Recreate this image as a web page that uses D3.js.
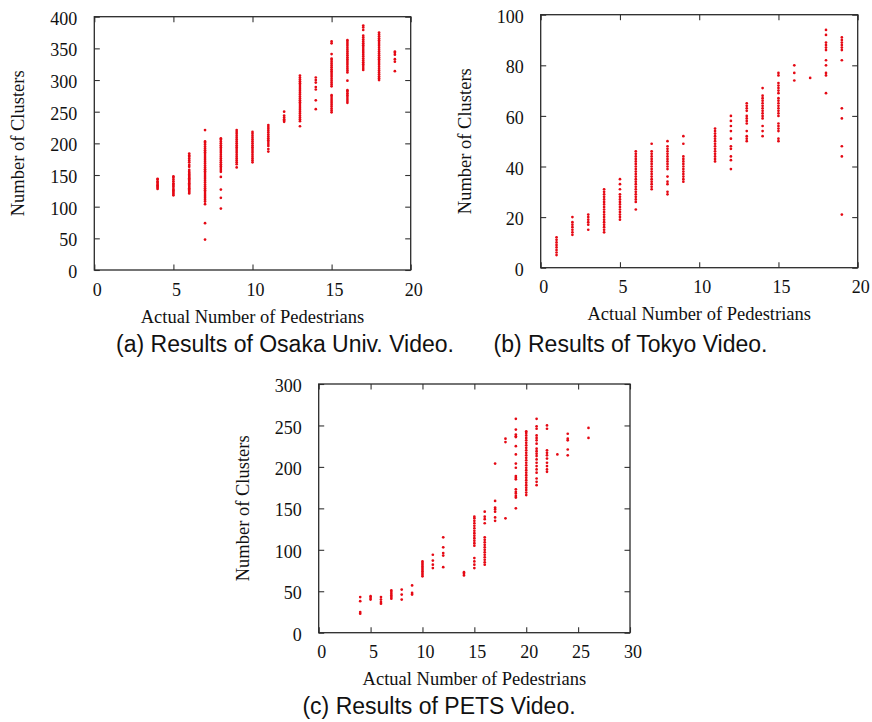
<!DOCTYPE html>
<html>
<head>
<meta charset="utf-8">
<script src="https://cdn.jsdelivr.net/npm/d3@7"></script>
<style>
  html, body { margin: 0; padding: 0; background: #fff; }
  svg { display: block; }
</style>
</head>
<body>
<svg id="chart" width="872" height="722"></svg>
<script>
// ---------------- DATA ----------------
// (a) Osaka Univ. video
const osakaX = [4, 5, 6, 7, 8, 9, 10, 11, 12, 13, 14, 15, 16, 17, 18, 19];
const osakaY = [
  [128,130,132,134,136,138,140,143,144],
  [118,120,122,124,126,128,131,133,135,137,140,143,146,148],
  [121,123,125,127,129,131,133,135,137,139,141,143,145,147,149,151,153,155,158,163,166,170,173,176,179,181,184],
  [48,74,104,108,111,114,117,120,123,126,129,132,135,138,141,144,147,150,153,156,159,162,165,168,171,174,177,180,183,186,189,192,195,198,201,203,221],
  [97,114,127,147,155,158,161,164,167,170,173,176,179,182,185,188,191,194,197,200,203,206,208],
  [162,167,170,173,176,179,182,185,188,191,194,197,200,203,206,209,212,215,218,221],
  [170,173,176,179,182,185,188,191,194,197,200,203,206,209,212,215,218],
  [187,191,196,199,202,205,208,211,214,217,220,223,226,229],
  [234,236,238,241,244,250],
  [227,235,238,241,244,247,250,253,256,259,262,265,268,271,274,277,280,283,286,289,292,295,298,301,304,307],
  [254,268,285,289,296,300,304],
  [249,252,255,258,261,264,267,270,273,276,290,293,296,299,302,305,308,311,314,317,320,323,326,329,332,334,341,358,361],
  [264,267,270,273,276,279,282,284,299,312,315,318,321,324,327,330,333,336,339,342,345,348,351,354,357,360,363],
  [316,319,322,325,328,331,334,337,340,343,346,349,352,355,358,361,364,367,370,379,383,386],
  [300,303,306,309,312,315,318,321,324,327,330,333,336,339,342,345,348,351,354,357,360,363,366,369,372,375],
  [314,329,333,340,343,345]
];
// (b) Tokyo video
const tokyoX = [1, 2, 3, 4, 5, 6, 7, 8, 9, 11, 12, 13, 14, 15, 16, 17, 18, 19];
const tokyoY = [
  [5,6,7,8,9,10,11,12],
  [13,14,15,16,17,18,20],
  [15,17,18,19,20,21],
  [14,15,16,17,18,19,20,21,22,23,24,25,26,27,28,29,30,31],
  [19,20,21,22,23,24,25,26,27,28,29,31,33,35],
  [23,26,27,28,29,30,31,32,33,34,35,36,37,38,39,40,41,42,43,44,45,46],
  [31,32,33,34,35,36,37,38,39,40,41,42,43,44,45,46,49],
  [29,30,33,34,36,39,40,41,42,43,44,45,46,47,48,50],
  [34,35,36,37,38,39,40,41,42,43,44,49,52],
  [42,43,44,45,46,47,48,49,50,51,52,53,54,55],
  [39,42.5,44,47,48,51,54,56,58,60],
  [50,51,52,54,57,58,59,60,62,63,64,65],
  [52,54,56,59,60,61,62,63,64,65,66,67,68,71],
  [50,51,54,55,56,57,60,61,62,63,64,65,66,67,69,70,71,72,73,76,77],
  [74,77,80],
  [75],
  [69,76,77,80,82,86,87,88,89,92,94],
  [21,44,48,59,63,82,86,87,88,89,90,91]
];
// (c) PETS video
const petsX = [4, 5, 6, 7, 8, 9, 10, 11, 12, 14, 15, 16, 17, 18, 19, 20, 21, 22, 23, 24, 26];
const petsY = [
  [23,25,38,43],
  [40,42,44],
  [35,37,40,43],
  [41,43,45,47,49,51],
  [40,46,52],
  [46,48,57],
  [68,70,72,74,76,78,80,82,84,86],
  [78,82,87,94],
  [79,93,96,103,115],
  [69,71,73],
  [78,82,86,90,105,108,111,114,117,120,123,126,129,132,135,138,140],
  [82,85,88,91,94,97,100,103,106,109,112,115,132,137,140,146],
  [135,139,146,149,151,159,204],
  [138,230,234],
  [150,163,165,168,170,173,185,187,189,199,204,215,225,236,237,239,245,258],
  [166,169,172,175,178,181,184,187,190,193,196,199,202,205,208,211,214,217,220,223,226,229,232,235,238,241,243],
  [178,182,186,193,197,201,205,209,213,216,219,222,228,232,235,238,246,249,258],
  [194,197,201,205,210,214,217,220,246,250],
  [215],
  [214,221,232,234,240],
  [235,247]
];
const xTicksA = [0, 5, 10, 15, 20];
const yTicksA = [0, 50, 100, 150, 200, 250, 300, 350, 400];
const xTicksB = [0, 5, 10, 15, 20];
const yTicksB = [0, 20, 40, 60, 80, 100];
const xTicksC = [0, 5, 10, 15, 20, 25, 30];
const yTicksC = [0, 50, 100, 150, 200, 250, 300];
const xTitle = "Actual Number of Pedestrians";
const yTitle = "Number of Clusters";
const captions = ["(a) Results of Osaka Univ. Video.", "(b) Results of Tokyo Video.", "(c) Results of PETS Video."];

// ---------------- DRAW ----------------
const svg = d3.select("#chart");
const SERIF = "'Liberation Serif', 'Times New Roman', serif";
const SANS = "'Liberation Sans', Arial, sans-serif";
const DOT = "#e50914";

function panel(cfg) {
  const x = d3.scaleLinear().domain(cfg.xDomain).range([cfg.left, cfg.right]);
  const y = d3.scaleLinear().domain(cfg.yDomain).range([cfg.bottom, cfg.top]);
  const g = svg.append("g");
  const tl = 5.5;

  const axStyle = sel => {
    sel.select(".domain").remove();
    sel.selectAll(".tick line").attr("stroke", "#333").attr("stroke-width", 1.1);
    sel.selectAll(".tick text").attr("font-family", SERIF).attr("font-size", 18).attr("fill", "#111");
  };
  // bottom (labels) and top (mirror) x ticks
  g.append("g").attr("transform", `translate(0,${cfg.bottom})`)
    .call(d3.axisBottom(x).tickValues(cfg.xTicks).tickSizeInner(-tl).tickSizeOuter(0).tickPadding(13))
    .call(axStyle)
    .call(s => s.selectAll(".tick text").attr("dx", 2.5));
  g.append("g").attr("transform", `translate(0,${cfg.top})`)
    .call(d3.axisTop(x).tickValues(cfg.xTicks).tickSizeInner(-tl).tickSizeOuter(0).tickFormat(""))
    .call(axStyle);
  // left (labels) and right (mirror) y ticks
  g.append("g").attr("transform", `translate(${cfg.left},0)`)
    .call(d3.axisLeft(y).tickValues(cfg.yTicks).tickSizeInner(-tl).tickSizeOuter(0).tickPadding(17))
    .call(axStyle)
    .call(s => s.selectAll(".tick text").attr("dy", "0.42em"));
  g.append("g").attr("transform", `translate(${cfg.right},0)`)
    .call(d3.axisRight(y).tickValues(cfg.yTicks).tickSizeInner(-tl).tickSizeOuter(0).tickFormat(""))
    .call(axStyle);

  // frame
  g.append("rect")
    .attr("x", cfg.left).attr("y", cfg.top)
    .attr("width", cfg.right - cfg.left).attr("height", cfg.bottom - cfg.top)
    .attr("fill", "none").attr("stroke", "#2a2a2a").attr("stroke-width", 1.3);

  // points
  const pts = [];
  cfg.xs.forEach((xv, i) => cfg.ys[i].forEach(yv => pts.push([xv, yv])));
  g.append("g").selectAll("circle").data(pts).join("circle")
    .attr("cx", d => x(d[0])).attr("cy", d => y(d[1]))
    .attr("r", 1.35).attr("fill", DOT);

  // axis titles
  g.append("text")
    .attr("x", (cfg.left + cfg.right) / 2).attr("y", cfg.bottom + 52.5)
    .attr("text-anchor", "middle").attr("font-family", SERIF).attr("font-size", 18.5).attr("fill", "#111")
    .text(xTitle);
  g.append("text")
    .attr("transform", `translate(${cfg.left - 70},${(cfg.top + cfg.bottom) / 2}) rotate(-90)`)
    .attr("text-anchor", "middle").attr("font-family", SERIF).attr("font-size", 18.5).attr("fill", "#111")
    .text(yTitle);
  // caption
  svg.append("text")
    .attr("x", cfg.capX).attr("y", cfg.capY)
    .attr("text-anchor", "middle").attr("font-family", SANS).attr("font-size", 23).attr("fill", "#111")
    .text(cfg.caption);
}

panel({ left: 94.3, right: 410.7, top: 16.7, bottom: 270, xDomain: [0, 20], yDomain: [0, 400],
  xTicks: xTicksA, yTicks: yTicksA, xs: osakaX, ys: osakaY, caption: captions[0], capX: 285, capY: 352 });
panel({ left: 540.7, right: 857.7, top: 14.7, bottom: 267.7, xDomain: [0, 20], yDomain: [0, 100],
  xTicks: xTicksB, yTicks: yTicksB, xs: tokyoX, ys: tokyoY, caption: captions[1], capX: 630.5, capY: 352 });
panel({ left: 318.7, right: 630, top: 384, bottom: 632.7, xDomain: [0, 30], yDomain: [0, 300],
  xTicks: xTicksC, yTicks: yTicksC, xs: petsX, ys: petsY, caption: captions[2], capX: 439, capY: 714 });
</script>
</body>
</html>
